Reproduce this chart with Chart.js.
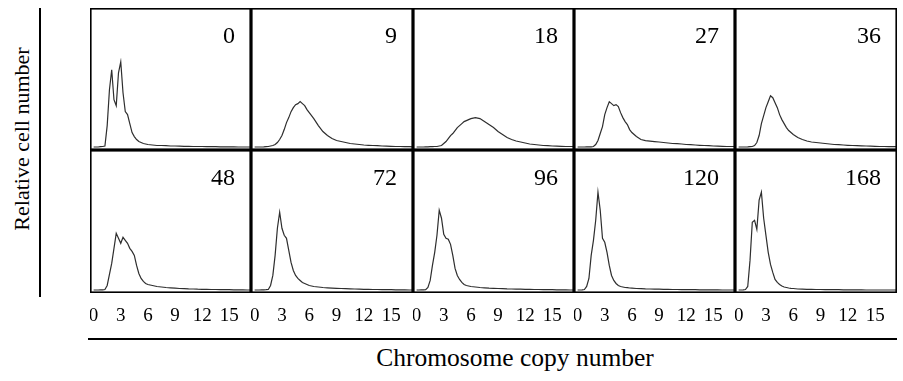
<!DOCTYPE html>
<html>
<head>
<meta charset="utf-8">
<script src="https://cdn.jsdelivr.net/npm/chart.js@4.4.0/dist/chart.umd.min.js"></script>
<style>
  body { margin: 0; background: #fff; }
  #page { position: relative; width: 903px; height: 381px; background: #fff; overflow: hidden;
          font-family: "Liberation Serif", "DejaVu Serif", serif; color: #000; }
  .panel { position: absolute; }
  .rule { position: absolute; background: #000; }
  .title { position: absolute; white-space: nowrap; }
</style>
</head>
<body>
<div id="page">
  <div class="rule" style="left:39px; top:8px; width:2px; height:289px;"></div>
  <div class="title" style="left:22px; top:139px; font-size:22px; transform:translate(-50%,-50%) rotate(-90deg);">Relative cell number</div>
  <div class="rule" style="left:88px; top:338px; width:809px; height:2px;"></div>
  <div class="title" style="left:515px; top:358px; font-size:25.5px; transform:translate(-50%,-50%);">Chromosome copy number</div>
</div>
<script>
//-------------------------
// data
//-------------------------
// x positions (chromosome copy number)
var copyNumber = [0,0.25,0.5,0.75,1,1.25,1.5,1.75,2,2.25,2.5,2.75,3,3.25,3.5,3.75,4,4.25,4.5,4.75,5,5.25,5.5,5.75,6,
                  6.5,7,7.5,8,8.5,9,9.5,10,10.5,11,11.5,12,12.5,13,13.5,14,14.5,15,15.5,16,16.5,17,17.5];
var copyTicks = [0,3,6,9,12,15];
var hours = ['0','9','18','27','36','48','72','96','120','168'];

// relative cell number, one array per time point
var h0   = [0.5,0.5,0.5,0.8,1,1.5,22,58,78,48,42,75,86,55,36,33,24,15,11,8,6,5,4,3.5,3,
            2.5,2,2,1.8,1.5,1.5,1.3,1.2,1.2,1,1,1,0.9,0.8,0.8,0.7,0.7,0.6,0.6,0.5,0.5,0.5,0.5];
var h9   = [0.5,0.5,0.5,0.5,0.6,0.8,1,1.5,2,3,5,8,12,18,25,30,36,40,43,44,46,44,42,38,35,
            29,22,16,12,9,7,6,5,4,3.5,3,2.5,2.2,2,1.8,1.5,1.3,1.2,1,1,0.8,0.8,0.7];
var h18  = [0.5,0.5,0.5,0.5,0.6,0.7,0.8,0.8,1,1,1.5,2,4,6,9,12,14,17,20,22,24,26,27,28,29,
            30,29,26,23,20,16,13,10,8,6.5,5.5,4.5,3.5,3,2.5,2,1.8,1.5,1.3,1.2,1,1,1];
var h27  = [0.5,0.5,0.5,0.5,0.6,0.6,0.7,1,3,7,14,21,33,40,46,44,42,43,41,35,30,26,23,18,15,
            11,8,7,6.5,6,5.5,5,4.5,4,3.8,3.5,3,2.8,2.5,2.2,2,1.8,1.5,1.3,1.2,1,1,1];
var h36  = [0.5,0.5,0.5,0.5,0.6,0.8,1,2,5,12,24,32,40,46,52,50,45,40,33,28,24,20,17,15,13,
            10,8,6.5,5.5,5,4.5,4,3.5,3,2.8,2.5,2.2,2,1.8,1.6,1.5,1.3,1.2,1,1,0.9,0.8,0.8];
var h48  = [0.5,0.5,0.5,0.6,0.7,1,5,16,27,42,57,52,47,53,50,47,42,39,35,25,17,12,9,7,6,
            5,4,3.5,3,2.7,2.3,2,1.8,1.6,1.5,1.3,1.2,1.1,1,1,0.9,0.8,0.8,0.7,0.6,0.6,0.5,0.5];
var h72  = [0.5,0.5,0.5,0.6,0.7,0.8,1,5,15,35,62,78,62,55,52,40,28,20,15,12,10,8,7,6,5,
            4,3.5,3,2.7,2.4,2.2,2,1.8,1.6,1.5,1.3,1.2,1.1,1,1,0.9,0.8,0.8,0.7,0.6,0.6,0.5,0.5];
var h96  = [0.5,0.5,0.6,0.7,0.8,3,10,25,38,55,80,72,56,52,51,46,35,22,15,11,8,6,5,4.5,4,
            3.5,3,2.7,2.4,2.2,2,1.8,1.6,1.5,1.4,1.3,1.2,1.1,1,1,0.9,0.8,0.8,0.7,0.6,0.6,0.5,0.5];
var h120 = [0.5,0.5,0.6,1,4,12,35,50,70,98,80,52,48,38,25,15,10,7,5,4,3.5,3,2.8,2.5,2.3,
            2,1.8,1.6,1.5,1.4,1.3,1.2,1.1,1,1,0.9,0.9,0.8,0.8,0.7,0.7,0.6,0.6,0.6,0.5,0.5,0.5,0.5];
var h168 = [0.5,0.5,0.6,1,4,30,68,70,61,90,98,72,55,38,26,18,11,8,6,4.5,3.5,3,2.5,2.2,2,
            1.5,1.3,1.2,1.1,1,1,0.9,0.9,0.8,0.8,0.7,0.7,0.6,0.6,0.6,0.5,0.5,0.5,0.5,0.5,0.5,0.5,0.5];
var series = [h0, h9, h18, h27, h36, h48, h72, h96, h120, h168];

//-------------------------
// panel frame + time label
//-------------------------
var panelFrame = {
  id: 'panelFrame',
  afterDraw: function(chart, args, opts) {
    var a = chart.chartArea, ctx = chart.ctx;
    ctx.save();
    ctx.strokeStyle = '#000';
    ctx.lineWidth = 1.6;
    ctx.strokeRect(a.left + 0.8, a.top + 0.8, a.right - a.left - 1.6, a.bottom - a.top - 1.6);
    ctx.fillStyle = '#000';
    ctx.font = '24px "Liberation Serif"';
    ctx.textAlign = 'right';
    ctx.textBaseline = 'alphabetic';
    ctx.fillText(opts.text, a.right - 16, a.top + 35);
    ctx.restore();
  }
};

var colEdges = [90, 251, 413, 574, 735, 897];
var page = document.getElementById('page');

for (var i = 0; i < series.length; i++) {
  var row = Math.floor(i / 5), col = i % 5;
  var bottom = row === 1;
  var w = colEdges[col + 1] - colEdges[col];
  var h = bottom ? 143 + 34 : 142;
  var box = document.createElement('div');
  box.className = 'panel';
  box.style.left = colEdges[col] + 'px';
  box.style.top = (bottom ? 150 : 8) + 'px';
  box.style.width = w + 'px';
  box.style.height = h + 'px';
  var cv = document.createElement('canvas');
  box.appendChild(cv);
  page.appendChild(box);

  var pts = copyNumber.map(function(x, k) { return { x: x, y: series[i][k] }; });
  var axisH = bottom ? 34 : 0;

  new Chart(cv, {
    type: 'line',
    data: {
      datasets: [{
        label: hours[i],
        data: pts,
        borderColor: '#2e2e2e',
        borderWidth: 1.2,
        pointRadius: 0,
        tension: 0,
        fill: false
      }]
    },
    options: {
      responsive: true,
      maintainAspectRatio: false,
      animation: false,
      layout: { padding: 0 },
      plugins: {
        legend: { display: false },
        tooltip: { enabled: false },
        panelFrame: { text: hours[i] }
      },
      scales: {
        x: {
          type: 'linear',
          min: -0.4,
          max: 17.4,
          display: bottom,
          border: { display: false },
          grid: { display: false, drawTicks: false },
          afterBuildTicks: function(s) { s.ticks = copyTicks.map(function(v) { return { value: v }; }); },
          afterFit: (function(hh) {
            return function(s) { s.height = hh; s.paddingLeft = 0; s.paddingRight = 0; };
          })(axisH),
          ticks: {
            autoSkip: false,
            maxRotation: 0,
            padding: 12,
            color: '#000',
            font: { family: 'Liberation Serif', size: 19 }
          }
        },
        y: {
          display: false,
          min: -2.5,
          max: 140
        }
      }
    },
    plugins: [panelFrame]
  });
}
</script>
</body>
</html>
